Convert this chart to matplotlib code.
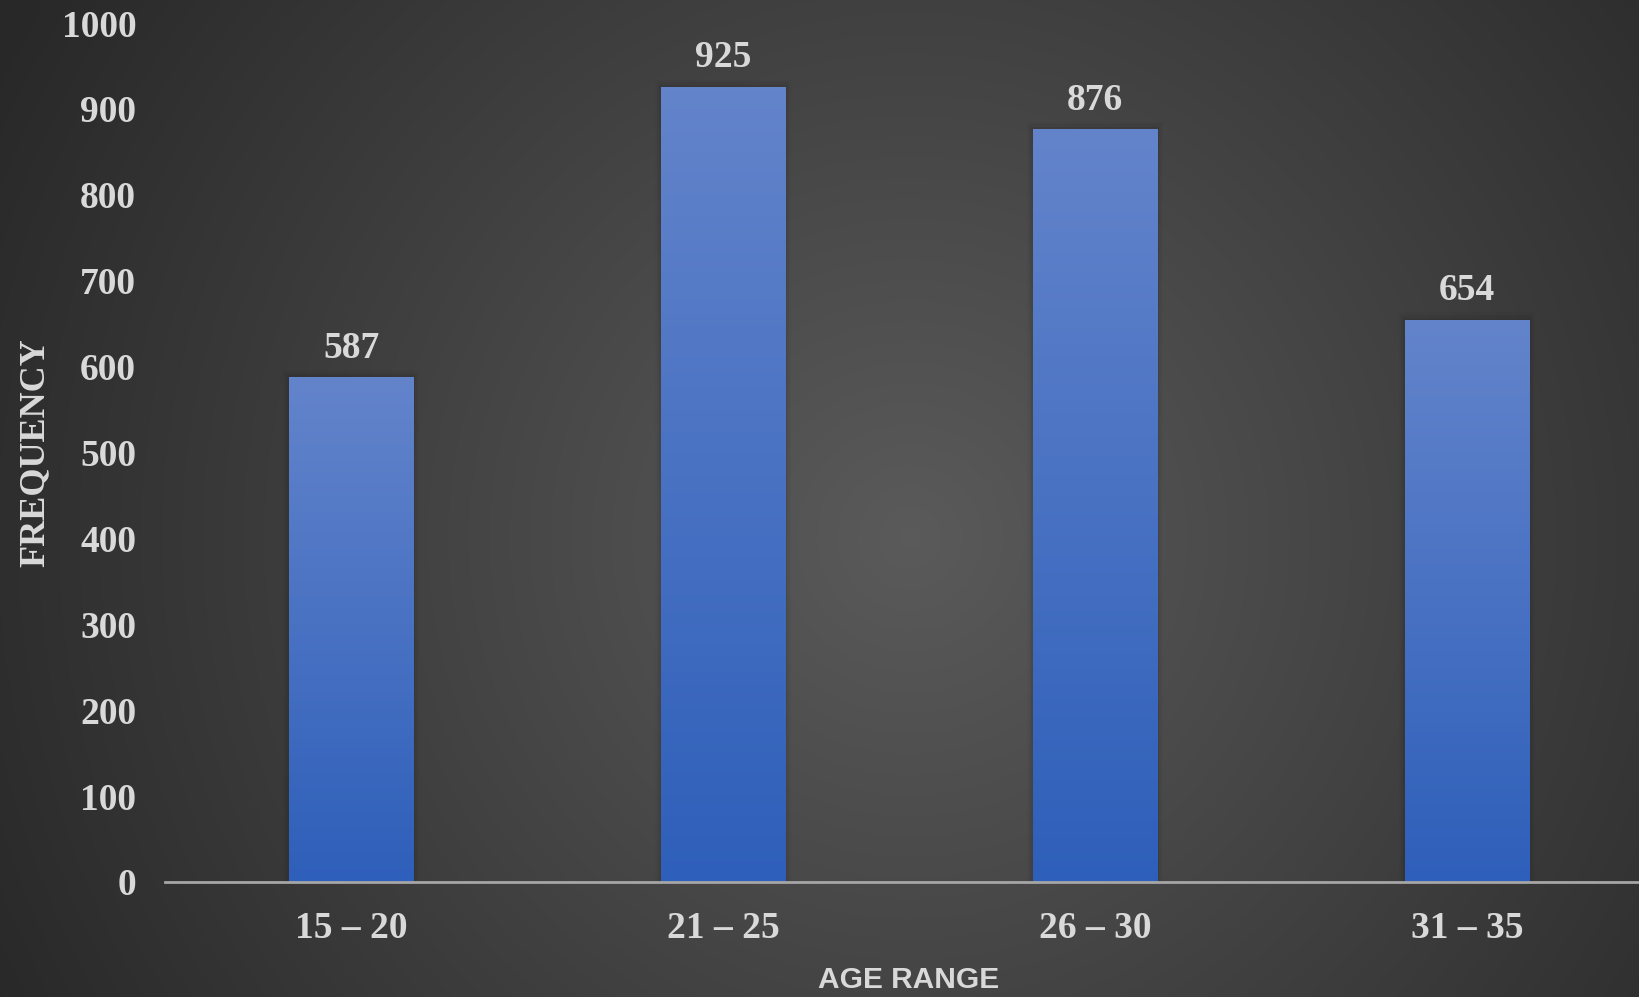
import matplotlib.pyplot as plt
import numpy as np

age_ranges = ['15 \u2013 20', '21 \u2013 25', '26 \u2013 30', '31 \u2013 35']
frequency = [587, 925, 876, 654]
y_ticks = [0, 100, 200, 300, 400, 500, 600, 700, 800, 900, 1000]

text_col = '#d9d9d9'
serif = ['Liberation Serif', 'DejaVu Serif']

fig = plt.figure(figsize=(16.4, 9.97), dpi=100)

# radial grey background
bg = fig.add_axes([0, 0, 1, 1], zorder=-10)
yy, xx = np.mgrid[0:1:400j, 0:1:660j]
r = np.sqrt(((xx - 0.555) * 1.65) ** 2 + (yy - 0.54) ** 2)
shade = np.clip(0.355 - 0.19 * r, 0.16, 0.36)
bg.imshow(np.dstack([shade] * 3), extent=[0, 1, 0, 1], aspect='auto', origin='upper')
bg.set_axis_off()

ax = fig.add_axes([0.1008, 0.1154, 0.907, 0.8615])
ax.patch.set_alpha(0)

x = np.arange(len(age_ranges))
bars = ax.bar(x, frequency, width=0.335, color='none', zorder=2)

top_c = np.array([99, 132, 203]) / 255
bot_c = np.array([46, 95, 186]) / 255
grad = np.linspace(0, 1, 256)[:, None, None]
grad_img = top_c * (1 - grad) + bot_c * grad
for b in bars:
    x0, w, h = b.get_x(), b.get_width(), b.get_height()
    # soft shadow
    for k, a in enumerate([0.05, 0.035, 0.02]):
        ax.add_patch(plt.Rectangle((x0 - 0.005 * (k + 1), 0), w + 0.01 * (k + 1), h + 3 * (k + 1),
                                   color='black', alpha=a, lw=0, zorder=1))
    ax.imshow(grad_img, extent=[x0, x0 + w, 0, h], aspect='auto', zorder=2)
    ax.text(b.get_x() + w / 2, h + 14, str(int(h)), ha='center', va='bottom',
            fontsize=27, fontweight='bold', color=text_col, family=serif)

ax.set_xlim(-0.5, len(age_ranges) - 0.5)
ax.set_ylim(0, 1000)
ax.set_yticks(y_ticks)
ax.set_xticks(x)
ax.set_xticklabels(age_ranges)

for s in ['top', 'right', 'left']:
    ax.spines[s].set_visible(False)
ax.spines['bottom'].set_color('#a6a6a6')
ax.spines['bottom'].set_linewidth(2)
ax.spines['bottom'].set_zorder(3)

ax.tick_params(axis='both', length=0, colors=text_col)
ax.tick_params(axis='y', pad=21)
ax.tick_params(axis='x', pad=21)
for lab in ax.get_yticklabels() + ax.get_xticklabels():
    lab.set_fontfamily(serif)
    lab.set_fontweight('bold')
    lab.set_fontsize(27)

ax.set_xlabel('AGE RANGE', fontsize=21.5, fontweight='bold', color=text_col,
              family=['Liberation Sans', 'DejaVu Sans'], labelpad=14)
ax.set_ylabel('FREQUENCY', fontsize=26, fontweight='bold', color=text_col,
              family=serif, labelpad=7)

fig.savefig('out.png', dpi=100)
